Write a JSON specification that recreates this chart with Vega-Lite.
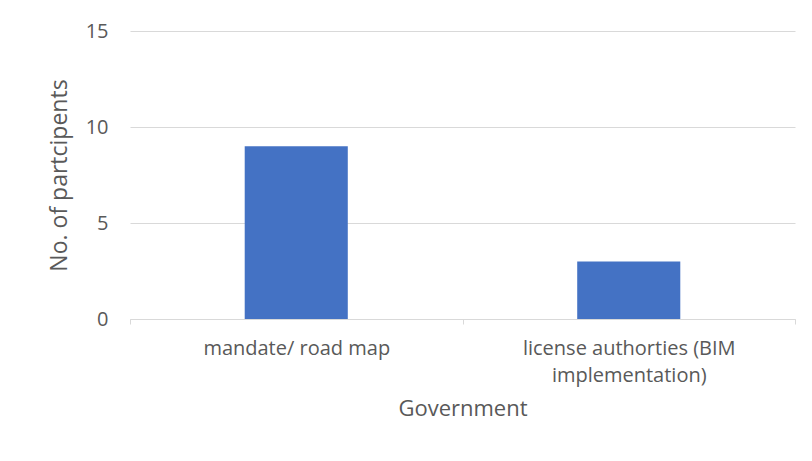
{
  "$schema": "https://vega.github.io/schema/vega-lite/v6.json",
  "width": 665,
  "height": 288,
  "autosize": {"type": "none"},
  "padding": {"left": 130, "top": 31, "right": 17, "bottom": 142},
  "background": "white",
  "config": {
    "view": {"stroke": null},
    "font": "Open Sans"
  },
  "data": {
    "values": [
      {"category": "mandate/ road map", "participants": 9},
      {"category": "license authorties (BIM implementation)", "participants": 3}
    ]
  },
  "mark": {"type": "bar", "color": "#4472c4", "width": {"band": 0.31}},
  "encoding": {
    "x": {
      "field": "category",
      "type": "nominal",
      "sort": null,
      "scale": {"paddingInner": 0, "paddingOuter": 0},
      "axis": {
        "title": "Government",
        "titleFont": "Open Sans",
        "titleFontSize": 22,
        "titleFontWeight": "normal",
        "titleColor": "#595959",
        "titlePadding": 13,
        "labelAngle": 0,
        "labelFontSize": 20,
        "labelColor": "#595959",
        "labelPadding": 14,
        "labelLineHeight": 27,
        "labelLimit": 500,
        "labelExpr": "datum.value == 'license authorties (BIM implementation)' ? ['license authorties (BIM', 'implementation)'] : datum.value",
        "tickBand": "extent",
        "tickColor": "#d9d9d9",
        "tickSize": 5,
        "domainColor": "#d9d9d9",
        "domainWidth": 1
      }
    },
    "y": {
      "field": "participants",
      "type": "quantitative",
      "scale": {"domain": [0, 15]},
      "axis": {
        "title": "No. of partcipents",
        "titleFont": "Open Sans",
        "titleFontSize": 23,
        "titleFontWeight": "normal",
        "titleColor": "#595959",
        "titlePadding": 14,
        "values": [0, 5, 10, 15],
        "labelFontSize": 20,
        "labelColor": "#595959",
        "labelPadding": 22,
        "domain": false,
        "ticks": false,
        "grid": true,
        "gridColor": "#d9d9d9",
        "gridWidth": 1
      }
    }
  }
}
